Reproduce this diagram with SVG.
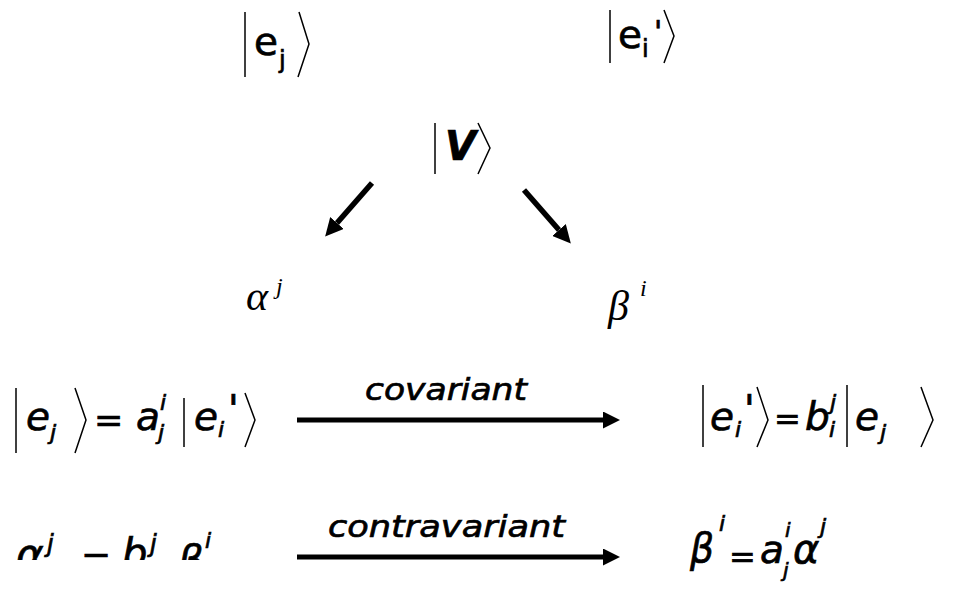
<svg xmlns="http://www.w3.org/2000/svg" width="954" height="595" viewBox="0 0 954 595">
<style>
.t{font-family:"DejaVu Sans","Liberation Sans",sans-serif;fill:#000;stroke:#000;stroke-width:0.7}
.o{font-style:oblique}
.m{font-size:39px}
.s{font-size:22px}
.g{font-family:"Liberation Serif","Times New Roman",serif;font-style:italic;fill:#000}
.d{fill:none;stroke:#000;stroke-width:1.5}
.ar{fill:none;stroke:#000;stroke-width:5}
.da{fill:none;stroke:#000;stroke-width:5.5}
</style>
<defs>
<marker id="h" viewBox="0 0 10 10" refX="0" refY="5" markerWidth="20" markerHeight="17" markerUnits="userSpaceOnUse" orient="auto"><path d="M0,0 L10,5 L0,10 z" fill="#000"/></marker>
<marker id="hd" viewBox="0 0 10 10" refX="0" refY="5" markerWidth="18" markerHeight="18" markerUnits="userSpaceOnUse" orient="auto"><path d="M0,0 L10,5 L0,10 z" fill="#000"/></marker>
<clipPath id="cl"><rect x="0" y="0" width="954" height="560"/></clipPath>
</defs>

<g id="ket-ej">
<line class="d" x1="245" y1="12" x2="245" y2="77"/>
<text class="t m" x="254" y="55">e</text>
<text class="t" x="279" y="68" font-size="24">j</text>
<polyline class="d" points="299,12 309,44 298,77"/>
</g>

<g id="ket-ei">
<line class="d" x1="610" y1="10" x2="610" y2="63"/>
<text class="t m" x="618" y="48">e</text>
<text class="t" x="642" y="57" font-size="24">i</text>
<text class="t" x="654" y="42" font-size="30">'</text>
<polyline class="d" points="664,10 674,36 664,63"/>
</g>

<g id="ket-V">
<line class="d" x1="435" y1="123" x2="435" y2="174"/>
<text class="t o" x="445" y="160" font-size="40" font-weight="bold">V</text>
<polyline class="d" points="478,123 490,148 478,174"/>
</g>

<g id="alpha">
<text class="g" x="246" y="310" font-size="42">α</text>
<text class="g" x="276" y="294" font-size="24">j</text>
</g>

<g id="beta">
<text class="g" x="608" y="320" font-size="42">β</text>
<text class="g" x="640" y="296" font-size="24">i</text>
</g>

<g id="eq-cov-left">
<line class="d" x1="16" y1="388" x2="16" y2="453"/>
<text class="t o m" x="26" y="430">e</text>
<text class="t o s" x="50" y="440">j</text>
<polyline class="d" points="75,388 86,420 75,453"/>
<text class="t" x="94" y="432" font-size="35">=</text>
<text class="t o m" x="136" y="430">a</text>
<text class="t o s" x="160" y="410">i</text>
<text class="t o s" x="158" y="440">j</text>
<line class="d" x1="184" y1="398" x2="184" y2="447"/>
<text class="t o m" x="194" y="430">e</text>
<text class="t o s" x="218" y="437">i</text>
<text class="t o m" x="228" y="423">'</text>
<polyline class="d" points="245,393 255,420 245,447"/>
</g>

<g id="eq-cov-right">
<line class="d" x1="703" y1="385" x2="703" y2="447"/>
<text class="t o m" x="710" y="430">e</text>
<text class="t o s" x="735" y="437">i</text>
<text class="t o m" x="744" y="423">'</text>
<polyline class="d" points="757,387 768,420 757,447"/>
<text class="t" x="774" y="430" font-size="32">=</text>
<text class="t o m" x="805" y="430">b</text>
<text class="t o s" x="830" y="410">j</text>
<text class="t o s" x="829" y="437">i</text>
<line class="d" x1="847" y1="385" x2="847" y2="447"/>
<text class="t o m" x="855" y="430">e</text>
<text class="t o s" x="880" y="440">j</text>
<polyline class="d" points="921,387 933,420 921,447"/>
</g>

<g id="eq-contra-left" clip-path="url(#cl)">
<text class="t o" x="16" y="569" font-size="42">α</text>
<text class="t o" x="47" y="552" font-size="24">j</text>
<text class="t" x="81" y="570" font-size="36">=</text>
<text class="t o" x="122" y="567" font-size="40">b</text>
<text class="t o" x="150" y="552" font-size="24">j</text>
<text class="t o" x="178" y="574" font-size="40">β</text>
<text class="t o" x="205" y="548" font-size="22">i</text>
</g>

<g id="eq-contra-right">
<text class="t o" x="690" y="562" font-size="40" textLength="24" lengthAdjust="spacingAndGlyphs">β</text>
<text class="t o s" x="719" y="531">i</text>
<text class="t" x="729" y="568" font-size="32">=</text>
<text class="t o m" x="760" y="563">a</text>
<text class="t o" x="785" y="537" font-size="20">i</text>
<text class="t o" x="783" y="577" font-size="20">j</text>
<text class="t o" x="793" y="563" font-size="40">α</text>
<text class="t o s" x="820" y="534">j</text>
</g>

<g id="connectors">
<line class="da" x1="372" y1="183" x2="337" y2="223" marker-end="url(#hd)"/>
<line class="da" x1="524" y1="190" x2="559" y2="230" marker-end="url(#hd)"/>
<line class="ar" x1="297" y1="420" x2="603" y2="420" marker-end="url(#h)"/>
<text class="t o" x="365" y="400" font-size="31" textLength="162" lengthAdjust="spacingAndGlyphs">covariant</text>
<line class="ar" x1="297" y1="557" x2="603" y2="557" marker-end="url(#h)"/>
<text class="t o" x="328" y="537" font-size="31" textLength="237" lengthAdjust="spacingAndGlyphs">contravariant</text>
</g>
</svg>
